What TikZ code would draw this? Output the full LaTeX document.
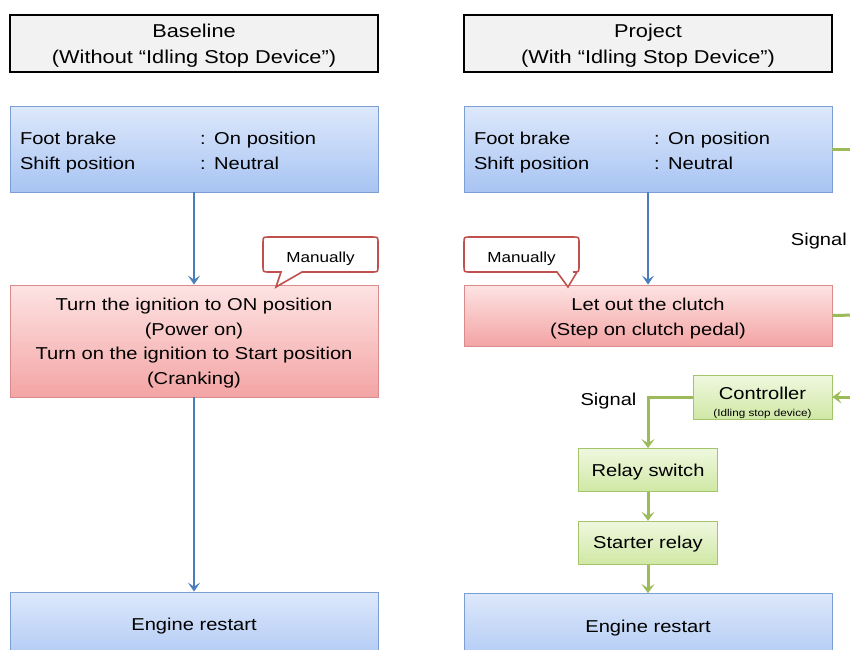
\documentclass[tikz,border=0pt]{standalone}
\usepackage{fontspec}
\setmainfont{Liberation Sans}[FakeStretch=1.17]
\usetikzlibrary{arrows.meta}
\definecolor{hdrgray}{HTML}{F2F2F2}
\definecolor{bluetop}{HTML}{DDE8FB}
\definecolor{bluebot}{HTML}{A8C4F3}
\definecolor{blueborder}{HTML}{7C9FD3}
\definecolor{bluearrow}{HTML}{4A7EBB}
\definecolor{redtop}{HTML}{FDE3E3}
\definecolor{redbot}{HTML}{F4A4A4}
\definecolor{redborder}{HTML}{D98C8B}
\definecolor{callred}{HTML}{C0504D}
\definecolor{greentop}{HTML}{EFF8DF}
\definecolor{greenbot}{HTML}{D0E8A5}
\definecolor{greenborder}{HTML}{A3C46A}
\definecolor{greenline}{HTML}{9BBB59}
\newcommand\fhdr{\fontsize{18.6}{26.5}\selectfont}
\newcommand\fbody{\fontsize{17.2}{24.5}\selectfont}
\newcommand\fsmall{\fontsize{14.6}{17}\selectfont}
\newcommand\ftiny{\fontsize{10}{12}\selectfont}
\tikzset{
  hdr/.style={draw=black, line width=2.2pt, fill=hdrgray, minimum width=368pt, minimum height=57pt, align=center, font=\fhdr, inner sep=0pt},
  bluebox/.style={draw=blueborder, line width=0.8pt, top color=bluetop, bottom color=bluebot, minimum width=368pt, inner sep=0pt, font=\fbody},
  redbox/.style={draw=redborder, line width=0.8pt, top color=redtop, bottom color=redbot, minimum width=368pt, inner sep=0pt, align=center, font=\fbody},
  greenbox/.style={draw=greenborder, line width=0.8pt, top color=greentop, bottom color=greenbot, inner sep=0pt, align=center, font=\fbody},
  tpos/.style={text depth=0pt, text height=#1},
  barrow/.style={draw=bluearrow, line width=2.2pt, -{Stealth[length=9pt,width=12pt,inset=4pt]}},
  garrow/.style={draw=greenline, line width=3pt, -{Stealth[length=9pt,width=13pt,inset=4pt]}},
  gline/.style={draw=greenline, line width=3pt},
  callbox/.style={draw=callred, line width=1.6pt, fill=white},
  lbl/.style={font=\fbody, inner sep=0pt, anchor=base},
}
\begin{document}
\begin{tikzpicture}[x=1pt,y=-1pt]
\clip (0,0) rectangle (850,649);
\fill[white] (0,0) rectangle (850,649);

% ---------- left column ----------
\node[hdr, tpos=40pt] (h1) at (194,43.5) {Baseline\\(Without “Idling Stop Device”)};
\node[bluebox, minimum height=86pt, text width=348pt, align=left, text height=0pt, text depth=9pt] (fb1) at (194,149)
  {\makebox[180pt][l]{Foot brake}: On position\\\makebox[180pt][l]{Shift position}: Neutral};
\node[redbox, minimum height=112pt, tpos=86pt] (ign) at (194,341)
  {Turn the ignition to ON position\\(Power on)\\Turn on the ignition to Start position\\(Cranking)};
\node[bluebox, minimum height=80pt] (er1) at (194,632) {};
\node[lbl] (er1t) at (194,630) {Engine restart};

\draw[barrow] (fb1.south) -- (ign.north);
\draw[barrow] (ign.south) -- (er1.north);

\draw[callbox] (281,272) -- (269,272) .. controls (263,272) .. (263,266) -- (263,243)
  .. controls (263,237) .. (269,237) -- (372,237) .. controls (378,237) .. (378,243)
  -- (378,266) .. controls (378,272) .. (372,272) -- (302,272) -- (276,287) -- cycle;
\node[font=\fsmall, inner sep=0pt, anchor=base] (man1) at (320.5,262.5) {Manually};

% ---------- right column ----------
\node[hdr, tpos=40pt] (h2) at (648,43.5) {Project\\(With “Idling Stop Device”)};
\node[bluebox, minimum height=86pt, text width=348pt, align=left, text height=0pt, text depth=9pt] (fb2) at (648,149)
  {\makebox[180pt][l]{Foot brake}: On position\\\makebox[180pt][l]{Shift position}: Neutral};
\node[redbox, minimum height=61pt, tpos=39pt] (clu) at (648,315.5)
  {Let out the clutch\\(Step on clutch pedal)};
\node[greenbox, minimum width=139pt, minimum height=44pt, tpos=38pt] (ctrl) at (762.5,397)
  {{\fbody Controller}\\[-8.3pt]{\ftiny (Idling stop device)}};
\node[greenbox, minimum width=139pt, minimum height=43pt, text depth=0pt] (rel) at (648,470) {Relay switch};
\node[greenbox, minimum width=139pt, minimum height=43pt, text depth=0pt] (sta) at (648,542.7) {Starter relay};
\node[bluebox, minimum height=80pt] (er2) at (648,633.5) {};
\node[lbl] (er2t) at (648,632) {Engine restart};

\draw[barrow] (fb2.south) -- (clu.north);

\draw[callbox] (557,272) -- (470,272) .. controls (464,272) .. (464,266) -- (464,243)
  .. controls (464,237) .. (470,237) -- (573,237) .. controls (579,237) .. (579,243)
  -- (579,266) .. controls (579,272) .. (573,272) -- (577,272) -- (568,287) -- cycle;
\node[font=\fsmall, inner sep=0pt, anchor=base] (man2) at (521.5,262.5) {Manually};

% signal connectors (running off the right edge)
\coordinate (o1) at (856,149);
\coordinate (o2) at (856,315);
\coordinate (o3) at (856,397);
\draw[gline] (fb2.east) -- (o1);
\draw[gline] (clu.east) -- (o2);
\draw[garrow] (o3) -- (ctrl.east);
\node[lbl, anchor=base east] (sig1) at (847,245) {Signal};

\draw[garrow] (ctrl.west) -| (rel.north);
\node[lbl] (sig2) at (608.5,405) {Signal};
\draw[garrow] (rel.south) -- (sta.north);
\draw[garrow] (sta.south) -- (er2.north);
\end{tikzpicture}
\end{document}
